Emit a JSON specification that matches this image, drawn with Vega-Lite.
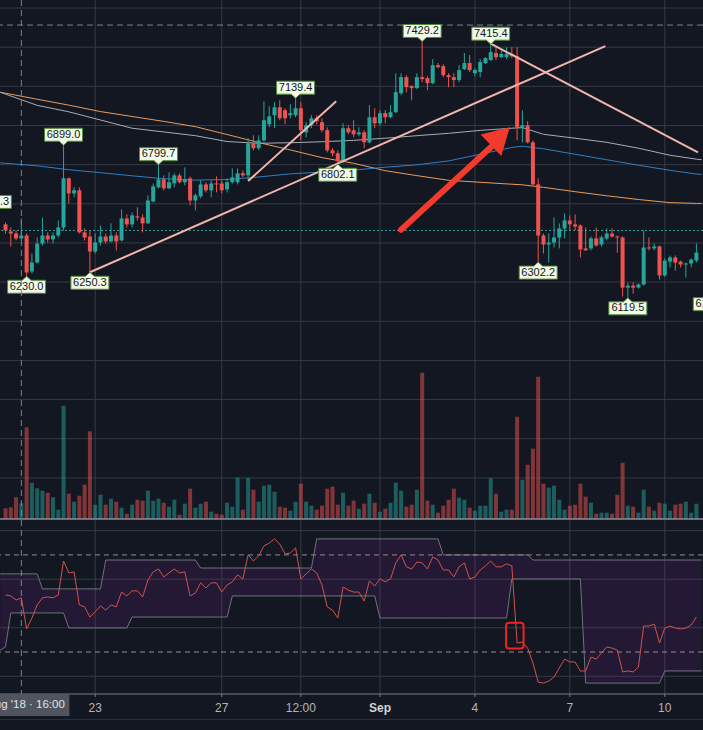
{
"$schema": "https://vega.github.io/schema/vega-lite/v6.json",
"background": "#131722",
"width": 703,
"height": 694,
"autosize": {"type": "none"},
"padding": {"left": 0, "top": 0, "right": 0, "bottom": 36},
"config": {"view": {"stroke": null}, "text": {"font": "Liberation Sans"}},
"datasets": {
"candles": [
{"t":"2018-08-20T04:00Z","o":6495,"h":6505,"l":6448,"c":6464,"v":1070,"r":53.5},
{"t":"2018-08-20T08:00Z","o":6459,"h":6479,"l":6382,"c":6448,"v":1170,"r":53.1},
{"t":"2018-08-20T12:00Z","o":6448,"h":6464,"l":6413,"c":6423,"v":2170,"r":51.4},
{"t":"2018-08-20T16:00Z","o":6423,"h":6525,"l":6413,"c":6438,"v":1570,"r":52.3},
{"t":"2018-08-20T20:00Z","o":6438,"h":6448,"l":6230,"c":6249,"v":9170,"r":39.5},
{"t":"2018-08-21T00:00Z","o":6254,"h":6346,"l":6244,"c":6300,"v":3630,"r":44.0},
{"t":"2018-08-21T04:00Z","o":6300,"h":6428,"l":6295,"c":6397,"v":3070,"r":49.4},
{"t":"2018-08-21T08:00Z","o":6397,"h":6530,"l":6387,"c":6438,"v":2830,"r":52.3},
{"t":"2018-08-21T12:00Z","o":6438,"h":6454,"l":6402,"c":6418,"v":2630,"r":52.7},
{"t":"2018-08-21T16:00Z","o":6418,"h":6454,"l":6397,"c":6438,"v":2170,"r":52.3},
{"t":"2018-08-21T20:00Z","o":6438,"h":6515,"l":6428,"c":6479,"v":930,"r":53.5},
{"t":"2018-08-22T00:00Z","o":6479,"h":6899,"l":6464,"c":6730,"v":11330,"r":67.5},
{"t":"2018-08-22T04:00Z","o":6730,"h":6735,"l":6602,"c":6653,"v":2530,"r":62.6},
{"t":"2018-08-22T08:00Z","o":6653,"h":6684,"l":6633,"c":6669,"v":1730,"r":63.0},
{"t":"2018-08-22T12:00Z","o":6669,"h":6684,"l":6448,"c":6454,"v":2330,"r":49.4},
{"t":"2018-08-22T16:00Z","o":6454,"h":6474,"l":6413,"c":6428,"v":3430,"r":48.6},
{"t":"2018-08-22T20:00Z","o":6433,"h":6464,"l":6250.3,"c":6356,"v":8770,"r":44.4},
{"t":"2018-08-23T00:00Z","o":6356,"h":6448,"l":6346,"c":6402,"v":1430,"r":46.5},
{"t":"2018-08-23T04:00Z","o":6402,"h":6489,"l":6387,"c":6433,"v":2430,"r":49.0},
{"t":"2018-08-23T08:00Z","o":6433,"h":6448,"l":6397,"c":6408,"v":1430,"r":47.3},
{"t":"2018-08-23T12:00Z","o":6408,"h":6500,"l":6402,"c":6438,"v":2030,"r":49.4},
{"t":"2018-08-23T16:00Z","o":6438,"h":6454,"l":6362,"c":6408,"v":1730,"r":48.6},
{"t":"2018-08-23T20:00Z","o":6413,"h":6571,"l":6408,"c":6525,"v":1130,"r":54.7},
{"t":"2018-08-24T00:00Z","o":6525,"h":6546,"l":6479,"c":6495,"v":530,"r":53.1},
{"t":"2018-08-24T04:00Z","o":6495,"h":6556,"l":6479,"c":6541,"v":1430,"r":55.2},
{"t":"2018-08-24T08:00Z","o":6536,"h":6582,"l":6515,"c":6530,"v":1930,"r":55.2},
{"t":"2018-08-24T12:00Z","o":6530,"h":6546,"l":6454,"c":6500,"v":1830,"r":52.7},
{"t":"2018-08-24T16:00Z","o":6500,"h":6643,"l":6497,"c":6617,"v":2830,"r":59.7},
{"t":"2018-08-24T20:00Z","o":6612,"h":6704,"l":6607,"c":6689,"v":1830,"r":63.0},
{"t":"2018-08-25T00:00Z","o":6684,"h":6799.7,"l":6679,"c":6725,"v":2030,"r":64.2},
{"t":"2018-08-25T04:00Z","o":6725,"h":6745,"l":6669,"c":6679,"v":1630,"r":60.9},
{"t":"2018-08-25T08:00Z","o":6679,"h":6761,"l":6676,"c":6710,"v":1230,"r":62.6},
{"t":"2018-08-25T12:00Z","o":6704,"h":6756,"l":6684,"c":6745,"v":1930,"r":64.2},
{"t":"2018-08-25T16:00Z","o":6745,"h":6756,"l":6704,"c":6710,"v":430,"r":62.6},
{"t":"2018-08-25T20:00Z","o":6710,"h":6786,"l":6694,"c":6725,"v":1530,"r":63.0},
{"t":"2018-08-26T00:00Z","o":6730,"h":6740,"l":6592,"c":6617,"v":3030,"r":53.1},
{"t":"2018-08-26T04:00Z","o":6617,"h":6653,"l":6566,"c":6643,"v":1130,"r":54.3},
{"t":"2018-08-26T08:00Z","o":6638,"h":6720,"l":6628,"c":6699,"v":1530,"r":58.5},
{"t":"2018-08-26T12:00Z","o":6699,"h":6710,"l":6658,"c":6669,"v":1730,"r":56.4},
{"t":"2018-08-26T16:00Z","o":6669,"h":6720,"l":6633,"c":6704,"v":730,"r":58.5},
{"t":"2018-08-26T20:00Z","o":6704,"h":6740,"l":6658,"c":6699,"v":530,"r":58.5},
{"t":"2018-08-27T00:00Z","o":6704,"h":6720,"l":6653,"c":6669,"v":430,"r":54.7},
{"t":"2018-08-27T04:00Z","o":6674,"h":6730,"l":6658,"c":6710,"v":1630,"r":57.6},
{"t":"2018-08-27T08:00Z","o":6710,"h":6781,"l":6704,"c":6735,"v":1230,"r":58.9},
{"t":"2018-08-27T12:00Z","o":6710,"h":6781,"l":6699,"c":6756,"v":4130,"r":61.8},
{"t":"2018-08-27T16:00Z","o":6756,"h":6771,"l":6735,"c":6745,"v":930,"r":60.1},
{"t":"2018-08-27T20:00Z","o":6745,"h":6935,"l":6720,"c":6909,"v":4100,"r":70.0},
{"t":"2018-08-28T00:00Z","o":6909,"h":6950,"l":6873,"c":6884,"v":2930,"r":67.5},
{"t":"2018-08-28T04:00Z","o":6884,"h":6950,"l":6873,"c":6924,"v":1730,"r":69.6},
{"t":"2018-08-28T08:00Z","o":6924,"h":7124,"l":6914,"c":7027,"v":3330,"r":73.7},
{"t":"2018-08-28T12:00Z","o":7006,"h":7098,"l":6991,"c":7047,"v":3430,"r":74.9},
{"t":"2018-08-28T16:00Z","o":7052,"h":7119,"l":6986,"c":7093,"v":2730,"r":76.6},
{"t":"2018-08-28T20:00Z","o":7093,"h":7129,"l":7027,"c":7037,"v":1230,"r":74.5},
{"t":"2018-08-29T00:00Z","o":7078,"h":7088,"l":7006,"c":7037,"v":1130,"r":70.4},
{"t":"2018-08-29T04:00Z","o":7052,"h":7109,"l":7037,"c":7063,"v":830,"r":70.8},
{"t":"2018-08-29T08:00Z","o":7052,"h":7139.4,"l":7042,"c":7088,"v":1730,"r":72.9},
{"t":"2018-08-29T12:00Z","o":7088,"h":7119,"l":6924,"c":6976,"v":3530,"r":60.1},
{"t":"2018-08-29T16:00Z","o":6965,"h":7017,"l":6940,"c":7001,"v":1730,"r":62.2},
{"t":"2018-08-29T20:00Z","o":7001,"h":7052,"l":6986,"c":7037,"v":1330,"r":64.2},
{"t":"2018-08-30T00:00Z","o":7037,"h":7052,"l":7006,"c":7022,"v":930,"r":62.6},
{"t":"2018-08-30T04:00Z","o":7017,"h":7037,"l":6965,"c":6976,"v":1330,"r":57.6},
{"t":"2018-08-30T08:00Z","o":6976,"h":6991,"l":6863,"c":6873,"v":3030,"r":48.6},
{"t":"2018-08-30T12:00Z","o":6873,"h":6884,"l":6843,"c":6858,"v":3230,"r":47.3},
{"t":"2018-08-30T16:00Z","o":6858,"h":6873,"l":6802.1,"c":6817,"v":1430,"r":44.0},
{"t":"2018-08-30T20:00Z","o":6817,"h":7011,"l":6807,"c":6986,"v":2630,"r":56.8},
{"t":"2018-08-31T00:00Z","o":6986,"h":7001,"l":6955,"c":6965,"v":1330,"r":55.5},
{"t":"2018-08-31T04:00Z","o":6976,"h":7027,"l":6940,"c":6955,"v":1830,"r":54.7},
{"t":"2018-08-31T08:00Z","o":6955,"h":6991,"l":6945,"c":6965,"v":1030,"r":54.7},
{"t":"2018-08-31T12:00Z","o":6965,"h":6976,"l":6884,"c":6914,"v":1530,"r":51.0},
{"t":"2018-08-31T16:00Z","o":6914,"h":7104,"l":6909,"c":7042,"v":2530,"r":59.3},
{"t":"2018-08-31T20:00Z","o":7042,"h":7088,"l":6986,"c":7011,"v":1630,"r":57.2},
{"t":"2018-09-01T00:00Z","o":7011,"h":7078,"l":7001,"c":7063,"v":730,"r":60.1},
{"t":"2018-09-01T04:00Z","o":7063,"h":7078,"l":7011,"c":7042,"v":1030,"r":58.9},
{"t":"2018-09-01T08:00Z","o":7042,"h":7104,"l":7037,"c":7068,"v":1630,"r":60.1},
{"t":"2018-09-01T12:00Z","o":7068,"h":7267,"l":7063,"c":7170,"v":3630,"r":66.7},
{"t":"2018-09-01T16:00Z","o":7165,"h":7267,"l":7155,"c":7247,"v":2830,"r":70.0},
{"t":"2018-09-01T20:00Z","o":7247,"h":7257,"l":7170,"c":7196,"v":1230,"r":65.1},
{"t":"2018-09-02T00:00Z","o":7201,"h":7206,"l":7129,"c":7191,"v":1430,"r":64.2},
{"t":"2018-09-02T04:00Z","o":7191,"h":7267,"l":7186,"c":7247,"v":2930,"r":67.1},
{"t":"2018-09-02T08:00Z","o":7247,"h":7429.2,"l":7221,"c":7237,"v":14630,"r":66.7},
{"t":"2018-09-02T12:00Z","o":7242,"h":7252,"l":7180,"c":7216,"v":1830,"r":64.2},
{"t":"2018-09-02T16:00Z","o":7216,"h":7339,"l":7211,"c":7308,"v":1430,"r":69.2},
{"t":"2018-09-02T20:00Z","o":7308,"h":7319,"l":7293,"c":7298,"v":630,"r":67.9},
{"t":"2018-09-03T00:00Z","o":7303,"h":7313,"l":7247,"c":7257,"v":1330,"r":63.8},
{"t":"2018-09-03T04:00Z","o":7257,"h":7267,"l":7196,"c":7247,"v":1930,"r":63.8},
{"t":"2018-09-03T08:00Z","o":7247,"h":7267,"l":7196,"c":7232,"v":3030,"r":60.9},
{"t":"2018-09-03T12:00Z","o":7232,"h":7308,"l":7221,"c":7283,"v":2130,"r":65.1},
{"t":"2018-09-03T16:00Z","o":7288,"h":7370,"l":7283,"c":7319,"v":1930,"r":66.7},
{"t":"2018-09-03T20:00Z","o":7319,"h":7360,"l":7273,"c":7283,"v":1130,"r":60.1},
{"t":"2018-09-04T00:00Z","o":7267,"h":7293,"l":7252,"c":7283,"v":830,"r":60.9},
{"t":"2018-09-04T04:00Z","o":7273,"h":7339,"l":7247,"c":7324,"v":1330,"r":63.8},
{"t":"2018-09-04T08:00Z","o":7319,"h":7349,"l":7313,"c":7344,"v":1330,"r":65.5},
{"t":"2018-09-04T12:00Z","o":7334,"h":7415.4,"l":7330,"c":7375,"v":4070,"r":67.5},
{"t":"2018-09-04T16:00Z","o":7370,"h":7400,"l":7334,"c":7349,"v":2530,"r":65.1},
{"t":"2018-09-04T20:00Z","o":7349,"h":7385,"l":7344,"c":7365,"v":730,"r":65.1},
{"t":"2018-09-05T00:00Z","o":7349,"h":7400,"l":7339,"c":7365,"v":930,"r":66.3},
{"t":"2018-09-05T04:00Z","o":7365,"h":7400,"l":7344,"c":7354,"v":930,"r":65.5},
{"t":"2018-09-05T08:00Z","o":7354,"h":7400,"l":6924,"c":6991,"v":10230,"r":33.7},
{"t":"2018-09-05T12:00Z","o":6991,"h":7078,"l":6914,"c":7001,"v":3930,"r":34.1},
{"t":"2018-09-05T16:00Z","o":7001,"h":7022,"l":6909,"c":6914,"v":5430,"r":31.6},
{"t":"2018-09-05T20:00Z","o":6914,"h":6924,"l":6694,"c":6699,"v":7030,"r":25.5},
{"t":"2018-09-06T00:00Z","o":6699,"h":6730,"l":6302.2,"c":6438,"v":14230,"r":17.6},
{"t":"2018-09-06T04:00Z","o":6438,"h":6448,"l":6346,"c":6392,"v":3530,"r":17.2},
{"t":"2018-09-06T08:00Z","o":6392,"h":6448,"l":6300,"c":6402,"v":3130,"r":18.0},
{"t":"2018-09-06T12:00Z","o":6402,"h":6530,"l":6377,"c":6428,"v":3330,"r":19.7},
{"t":"2018-09-06T16:00Z","o":6428,"h":6500,"l":6372,"c":6474,"v":1930,"r":23.4},
{"t":"2018-09-06T20:00Z","o":6474,"h":6551,"l":6423,"c":6515,"v":930,"r":27.1},
{"t":"2018-09-07T00:00Z","o":6515,"h":6541,"l":6464,"c":6495,"v":1330,"r":25.9},
{"t":"2018-09-07T04:00Z","o":6495,"h":6546,"l":6464,"c":6484,"v":1430,"r":25.9},
{"t":"2018-09-07T08:00Z","o":6489,"h":6495,"l":6326,"c":6367,"v":3530,"r":22.2},
{"t":"2018-09-07T12:00Z","o":6372,"h":6479,"l":6360,"c":6362,"v":2230,"r":22.2},
{"t":"2018-09-07T16:00Z","o":6372,"h":6433,"l":6362,"c":6423,"v":1630,"r":27.9},
{"t":"2018-09-07T20:00Z","o":6423,"h":6479,"l":6382,"c":6387,"v":530,"r":27.1},
{"t":"2018-09-08T00:00Z","o":6392,"h":6438,"l":6382,"c":6428,"v":630,"r":29.6},
{"t":"2018-09-08T04:00Z","o":6423,"h":6474,"l":6413,"c":6448,"v":630,"r":32.1},
{"t":"2018-09-08T08:00Z","o":6448,"h":6474,"l":6428,"c":6433,"v":530,"r":31.6},
{"t":"2018-09-08T12:00Z","o":6433,"h":6438,"l":6351,"c":6428,"v":2430,"r":30.8},
{"t":"2018-09-08T16:00Z","o":6428,"h":6433,"l":6126,"c":6172,"v":5630,"r":21.8},
{"t":"2018-09-08T20:00Z","o":6172,"h":6198,"l":6119.5,"c":6182,"v":1330,"r":22.2},
{"t":"2018-09-09T00:00Z","o":6182,"h":6198,"l":6141,"c":6172,"v":1230,"r":21.8},
{"t":"2018-09-09T04:00Z","o":6172,"h":6193,"l":6167,"c":6188,"v":630,"r":23.8},
{"t":"2018-09-09T08:00Z","o":6188,"h":6464,"l":6182,"c":6377,"v":2930,"r":40.7},
{"t":"2018-09-09T12:00Z","o":6377,"h":6428,"l":6362,"c":6372,"v":1230,"r":40.7},
{"t":"2018-09-09T16:00Z","o":6372,"h":6397,"l":6362,"c":6382,"v":830,"r":41.5},
{"t":"2018-09-09T20:00Z","o":6382,"h":6387,"l":6213,"c":6234,"v":1630,"r":33.7},
{"t":"2018-09-10T00:00Z","o":6234,"h":6321,"l":6228,"c":6310,"v":1530,"r":39.9},
{"t":"2018-09-10T04:00Z","o":6305,"h":6336,"l":6275,"c":6326,"v":830,"r":40.7},
{"t":"2018-09-10T08:00Z","o":6326,"h":6336,"l":6259,"c":6300,"v":1430,"r":39.9},
{"t":"2018-09-10T12:00Z","o":6305,"h":6310,"l":6275,"c":6290,"v":1530,"r":39.5},
{"t":"2018-09-10T16:00Z","o":6290,"h":6300,"l":6223,"c":6295,"v":1730,"r":39.9},
{"t":"2018-09-10T20:00Z","o":6295,"h":6321,"l":6275,"c":6315,"v":630,"r":41.1},
{"t":"2018-09-11T00:00Z","o":6310,"h":6397,"l":6300,"c":6351,"v":1530,"r":44.4}
],
"ma": [
{"t":"2018-08-20T00:00Z","a":7170,"g":7170,"b":6809},
{"t":"2018-08-20T04:00Z","a":7165,"g":7160,"b":6807},
{"t":"2018-08-21T04:00Z","a":7134,"g":7103,"b":6794},
{"t":"2018-08-22T04:00Z","a":7104,"g":7070,"b":6774},
{"t":"2018-08-23T04:00Z","a":7071,"g":7028,"b":6759},
{"t":"2018-08-24T04:00Z","a":7046,"g":6986,"b":6743},
{"t":"2018-08-25T04:00Z","a":7021,"g":6967,"b":6728},
{"t":"2018-08-26T04:00Z","a":6994,"g":6948,"b":6721},
{"t":"2018-08-27T04:00Z","a":6954,"g":6918,"b":6724},
{"t":"2018-08-28T04:00Z","a":6913,"g":6909,"b":6737},
{"t":"2018-08-29T04:00Z","a":6875,"g":6912,"b":6753},
{"t":"2018-08-30T04:00Z","a":6836,"g":6917,"b":6762},
{"t":"2018-08-31T04:00Z","a":6807,"g":6924,"b":6772},
{"t":"2018-09-01T04:00Z","a":6769,"g":6935,"b":6787},
{"t":"2018-09-02T04:00Z","a":6744,"g":6948,"b":6799},
{"t":"2018-09-03T04:00Z","a":6720,"g":6960,"b":6819},
{"t":"2018-09-04T04:00Z","a":6710,"g":6975,"b":6853},
{"t":"2018-09-05T04:00Z","a":6700,"g":6986,"b":6888},
{"t":"2018-09-05T12:00Z","a":6697,"g":6989,"b":6894},
{"t":"2018-09-06T04:00Z","a":6684,"g":6955,"b":6881},
{"t":"2018-09-07T04:00Z","a":6662,"g":6935,"b":6853},
{"t":"2018-09-08T04:00Z","a":6641,"g":6914,"b":6825},
{"t":"2018-09-09T04:00Z","a":6622,"g":6884,"b":6797},
{"t":"2018-09-10T04:00Z","a":6606,"g":6848,"b":6771},
{"t":"2018-09-11T00:00Z","a":6602,"g":6828,"b":6752},
{"t":"2018-09-11T04:00Z","a":6602,"g":6825,"b":6750}
],
"bands": [
{"t":"2018-08-20T00:00Z","up":62.2,"lo":30.8},
{"t":"2018-08-20T04:00Z","up":62.2,"lo":32.1},
{"t":"2018-08-20T08:00Z","up":62.2,"lo":46.1},
{"t":"2018-08-21T04:00Z","up":62.2,"lo":46.1},
{"t":"2018-08-21T08:00Z","up":56.0,"lo":46.1},
{"t":"2018-08-22T00:00Z","up":56.0,"lo":46.1},
{"t":"2018-08-22T04:00Z","up":56.0,"lo":39.9},
{"t":"2018-08-23T04:00Z","up":56.0,"lo":39.9},
{"t":"2018-08-23T08:00Z","up":67.9,"lo":39.9},
{"t":"2018-08-24T00:00Z","up":67.9,"lo":39.9},
{"t":"2018-08-24T04:00Z","up":67.9,"lo":44.4},
{"t":"2018-08-26T04:00Z","up":67.9,"lo":44.4},
{"t":"2018-08-26T08:00Z","up":64.6,"lo":44.4},
{"t":"2018-08-27T04:00Z","up":64.6,"lo":44.4},
{"t":"2018-08-27T08:00Z","up":64.6,"lo":53.1},
{"t":"2018-08-29T20:00Z","up":64.6,"lo":53.1},
{"t":"2018-08-30T00:00Z","up":76.6,"lo":53.1},
{"t":"2018-08-31T20:00Z","up":76.6,"lo":53.1},
{"t":"2018-09-01T00:00Z","up":76.6,"lo":44.0},
{"t":"2018-09-02T20:00Z","up":76.6,"lo":44.0},
{"t":"2018-09-03T00:00Z","up":70.0,"lo":44.0},
{"t":"2018-09-05T00:00Z","up":70.0,"lo":44.0},
{"t":"2018-09-05T04:00Z","up":70.0,"lo":60.1},
{"t":"2018-09-05T16:00Z","up":70.0,"lo":60.1},
{"t":"2018-09-05T20:00Z","up":67.9,"lo":60.1},
{"t":"2018-09-07T08:00Z","up":67.9,"lo":60.1},
{"t":"2018-09-07T12:00Z","up":67.9,"lo":17.2},
{"t":"2018-09-09T20:00Z","up":67.9,"lo":17.2},
{"t":"2018-09-10T00:00Z","up":67.9,"lo":22.2},
{"t":"2018-09-11T04:00Z","up":67.9,"lo":22.2}
],
"trend": [
{"id":"a","t":"2018-08-22T20:00Z","p":6250.3},
{"id":"a","t":"2018-09-08T02:56Z","p":7405.6},
{"id":"b","t":"2018-08-27T20:00Z","p":6716},
{"id":"b","t":"2018-08-30T14:48Z","p":7124},
{"id":"c","t":"2018-09-04T12:00Z","p":7418},
{"id":"c","t":"2018-09-11T01:12Z","p":6863}
],
"labels": [
{"t":"2018-08-22T00:00Z","p":6899.0,"txt":"6899.0","pos":"above"},
{"t":"2018-08-25T00:00Z","p":6799.7,"txt":"6799.7","pos":"above"},
{"t":"2018-08-29T08:00Z","p":7139.4,"txt":"7139.4","pos":"above"},
{"t":"2018-09-02T08:00Z","p":7429.2,"txt":"7429.2","pos":"above"},
{"t":"2018-09-04T12:00Z","p":7415.4,"txt":"7415.4","pos":"above"},
{"t":"2018-08-19T18:00Z","p":6556,"txt":"6556.3","pos":"above"},
{"t":"2018-08-20T20:00Z","p":6230.0,"txt":"6230.0","pos":"below"},
{"t":"2018-08-22T20:00Z","p":6250.3,"txt":"6250.3","pos":"below"},
{"t":"2018-08-30T16:00Z","p":6802.1,"txt":"6802.1","pos":"below"},
{"t":"2018-09-06T00:00Z","p":6302.2,"txt":"6302.2","pos":"below"},
{"t":"2018-09-08T20:00Z","p":6119.5,"txt":"6119.5","pos":"below"},
{"t":"2018-09-11T12:00Z","p":6141,"txt":"6141.0","pos":"below"}
],
"vgrid": [
{"t":"2018-08-23T00:00Z","lab":"23"},{"t":"2018-08-27T00:00Z","lab":"27"},{"t":"2018-08-29T12:00Z","lab":"12:00"},{"t":"2018-09-01T00:00Z","lab":"Sep"},{"t":"2018-09-04T00:00Z","lab":"4"},{"t":"2018-09-07T00:00Z","lab":"7"},{"t":"2018-09-10T00:00Z","lab":"10"}
],
"hgrid": [{"p":5200},{"p":5400},{"p":5600},{"p":5800},{"p":6000},{"p":6200},{"p":6400},{"p":6600},{"p":6800},{"p":7000},{"p":7200},{"p":7400},{"p":7600}],
"ogrid": [{"r":20},{"r":40},{"r":60},{"r":80}]
},
"layer": [
{"data": {"name": "vgrid"},
 "mark": {"type": "rule", "color": "#363a46", "strokeWidth": 1},
 "encoding": {
  "x": {"field": "t", "type": "temporal", "title": null,
   "scale": {"type": "utc", "domain": [{"year":2018,"month":8,"date":20,"hours":3,"minutes":36,"utc":true},{"year":2018,"month":9,"date":11,"hours":1,"minutes":12,"utc":true}]},
   "axis": null}
 }},
{"data": {"name": "hgrid"},
 "mark": {"type": "rule", "color": "#363a46", "strokeWidth": 1},
 "encoding": {"y": {"field": "p", "type": "quantitative", "scale": {"domain": [4990, 7641], "range": [519, 0], "nice": false, "zero": false}, "axis": null}}},
{"data": {"name": "ogrid"},
 "mark": {"type": "rule", "color": "#363a46", "strokeWidth": 1},
 "encoding": {"y": {"field": "r", "type": "quantitative", "scale": {"domain": [12.7, 84.8], "range": [694, 519], "nice": false, "zero": false}, "axis": null}}},
{"data": {"name": "candles"},
 "mark": {"type": "bar", "size": 4, "opacity": 0.5, "clip": true},
 "encoding": {
  "x": {"field": "t", "type": "temporal", "axis": null},
  "y": {"field": "v", "type": "quantitative", "scale": {"domain": [0, 51900], "range": [519, 0], "nice": false}, "axis": null},
  "color": {"condition": {"test": "datum.c >= datum.o", "value": "#26a69a"}, "value": "#ef5350"}
 }},
{"data": {"values": [{"v": 0}]},
 "mark": {"type": "rule", "color": "#8a8d97", "strokeWidth": 1.5},
 "encoding": {"y": {"field": "v", "type": "quantitative", "scale": {"domain": [0, 51900], "range": [519, 0], "nice": false}, "axis": null}}},
{"data": {"values": [{"p": 6464}]},
 "mark": {"type": "rule", "color": "#26a69a", "strokeDash": [2, 2], "strokeWidth": 1},
 "encoding": {"y": {"field": "p", "type": "quantitative", "scale": {"domain": [4990, 7641], "range": [519, 0], "nice": false, "zero": false}, "axis": null}}},
{"data": {"values": [{"p": 7513}]},
 "mark": {"type": "rule", "color": "#758696", "strokeDash": [6, 4], "strokeWidth": 1},
 "encoding": {"y": {"field": "p", "type": "quantitative", "scale": {"domain": [4990, 7641], "range": [519, 0], "nice": false, "zero": false}, "axis": null}}},
{"data": {"name": "ma"},
 "mark": {"type": "line", "color": "#e99a5b", "strokeWidth": 1, "clip": true},
 "encoding": {"x": {"field": "t", "type": "temporal", "axis": null}, "y": {"field": "a", "type": "quantitative", "scale": {"domain": [4990, 7641], "range": [519, 0], "nice": false, "zero": false}, "axis": null}}},
{"data": {"name": "ma"},
 "mark": {"type": "line", "color": "#a9acb5", "strokeWidth": 1, "clip": true},
 "encoding": {"x": {"field": "t", "type": "temporal", "axis": null}, "y": {"field": "g", "type": "quantitative", "scale": {"domain": [4990, 7641], "range": [519, 0], "nice": false, "zero": false}, "axis": null}}},
{"data": {"name": "ma"},
 "mark": {"type": "line", "color": "#2f7fc1", "strokeWidth": 1, "clip": true},
 "encoding": {"x": {"field": "t", "type": "temporal", "axis": null}, "y": {"field": "b", "type": "quantitative", "scale": {"domain": [4990, 7641], "range": [519, 0], "nice": false, "zero": false}, "axis": null}}},
{"data": {"name": "candles"},
 "mark": {"type": "rule", "strokeWidth": 1, "clip": true},
 "encoding": {"x": {"field": "t", "type": "temporal", "axis": null}, "y": {"field": "l", "type": "quantitative", "scale": {"domain": [4990, 7641], "range": [519, 0], "nice": false, "zero": false}, "axis": null}, "y2": {"field": "h"},
  "color": {"condition": {"test": "datum.c >= datum.o", "value": "#26a69a"}, "value": "#ef5350"}}},
{"data": {"name": "candles"},
 "mark": {"type": "bar", "size": 4, "clip": true},
 "encoding": {"x": {"field": "t", "type": "temporal", "axis": null}, "y": {"field": "o", "type": "quantitative", "scale": {"domain": [4990, 7641], "range": [519, 0], "nice": false, "zero": false}, "axis": null}, "y2": {"field": "c"},
  "color": {"condition": {"test": "datum.c >= datum.o", "value": "#26a69a"}, "value": "#ef5350"}}},
{"data": {"name": "trend"},
 "mark": {"type": "line", "color": "#f2b5ac", "strokeWidth": 2, "clip": true},
 "encoding": {"x": {"field": "t", "type": "temporal", "axis": null}, "y": {"field": "p", "type": "quantitative", "scale": {"domain": [4990, 7641], "range": [519, 0], "nice": false, "zero": false}, "axis": null}, "detail": {"field": "id"}}},
{"data": {"values": [{"t": "2018-09-01T15:54Z", "p": 6467}, {"t": "2018-09-04T14:30Z", "p": 6904}]},
 "mark": {"type": "line", "color": "#f23b2c", "strokeWidth": 6, "strokeCap": "round"},
 "encoding": {"x": {"field": "t", "type": "temporal", "axis": null}, "y": {"field": "p", "type": "quantitative", "scale": {"domain": [4990, 7641], "range": [519, 0], "nice": false, "zero": false}, "axis": null}}},
{"data": {"values": [{"t": "2018-09-04T19:18Z", "p": 6945}]},
 "mark": {"type": "point", "shape": "M0,-1L1.14,1L-1.14,1Z", "size": 686, "angle": 46, "filled": true, "color": "#f23b2c", "opacity": 1},
 "encoding": {"x": {"field": "t", "type": "temporal", "axis": null}, "y": {"field": "p", "type": "quantitative", "scale": {"domain": [4990, 7641], "range": [519, 0], "nice": false, "zero": false}, "axis": null}}},
{"data": {"name": "labels"},
 "transform": [{"filter": "datum.pos == 'above'"}],
 "mark": {"type": "point", "shape": "M0,0L-0.22,-0.2L-0.95,-0.2L-0.95,-0.85L0.95,-0.85L0.95,-0.2L0.22,-0.2Z", "size": 1600, "filled": true, "fill": "#f2f9e6", "stroke": "#4f8a36", "strokeWidth": 1, "opacity": 1, "clip": true},
 "encoding": {"x": {"field": "t", "type": "temporal", "axis": null}, "y": {"field": "p", "type": "quantitative", "scale": {"domain": [4990, 7641], "range": [519, 0], "nice": false, "zero": false}, "axis": null}}},
{"data": {"name": "labels"},
 "transform": [{"filter": "datum.pos == 'below'"}],
 "mark": {"type": "point", "shape": "M0,0L0.22,0.2L0.95,0.2L0.95,0.85L-0.95,0.85L-0.95,0.2L-0.22,0.2Z", "size": 1600, "filled": true, "fill": "#f2f9e6", "stroke": "#4f8a36", "strokeWidth": 1, "opacity": 1, "clip": true},
 "encoding": {"x": {"field": "t", "type": "temporal", "axis": null}, "y": {"field": "p", "type": "quantitative", "scale": {"domain": [4990, 7641], "range": [519, 0], "nice": false, "zero": false}, "axis": null}}},
{"data": {"name": "labels"},
 "transform": [{"filter": "datum.pos == 'above'"}],
 "mark": {"type": "text", "dy": -10.5, "fontSize": 11, "color": "#131722", "baseline": "middle", "clip": true},
 "encoding": {"x": {"field": "t", "type": "temporal", "axis": null}, "y": {"field": "p", "type": "quantitative", "scale": {"domain": [4990, 7641], "range": [519, 0], "nice": false, "zero": false}, "axis": null}, "text": {"field": "txt"}}},
{"data": {"name": "labels"},
 "transform": [{"filter": "datum.pos == 'below'"}],
 "mark": {"type": "text", "dy": 10.5, "fontSize": 11, "color": "#131722", "baseline": "middle", "clip": true},
 "encoding": {"x": {"field": "t", "type": "temporal", "axis": null}, "y": {"field": "p", "type": "quantitative", "scale": {"domain": [4990, 7641], "range": [519, 0], "nice": false, "zero": false}, "axis": null}, "text": {"field": "txt"}}},
{"data": {"name": "bands"},
 "mark": {"type": "area", "color": "#9c27b0", "opacity": 0.13, "clip": true},
 "encoding": {
  "x": {"field": "t", "type": "temporal", "axis": null},
  "y": {"field": "up", "type": "quantitative", "scale": {"domain": [12.7, 84.8], "range": [694, 519], "nice": false, "zero": false}, "axis": null},
  "y2": {"field": "lo"}
 }},
{"data": {"name": "bands"},
 "mark": {"type": "line", "color": "#6f727c", "strokeWidth": 1, "clip": true},
 "encoding": {"x": {"field": "t", "type": "temporal", "axis": null}, "y": {"field": "up", "type": "quantitative", "scale": {"domain": [12.7, 84.8], "range": [694, 519], "nice": false, "zero": false}, "axis": null}}},
{"data": {"name": "bands"},
 "mark": {"type": "line", "color": "#6f727c", "strokeWidth": 1, "clip": true},
 "encoding": {"x": {"field": "t", "type": "temporal", "axis": null}, "y": {"field": "lo", "type": "quantitative", "scale": {"domain": [12.7, 84.8], "range": [694, 519], "nice": false, "zero": false}, "axis": null}}},
{"data": {"values": [{"r": 70}, {"r": 30}]},
 "mark": {"type": "rule", "color": "#9f868c", "strokeDash": [5, 4], "strokeWidth": 1},
 "encoding": {"y": {"field": "r", "type": "quantitative", "scale": {"domain": [12.7, 84.8], "range": [694, 519], "nice": false, "zero": false}, "axis": null}}},
{"data": {"name": "candles"},
 "mark": {"type": "line", "color": "#cf5350", "strokeWidth": 1, "clip": true},
 "encoding": {"x": {"field": "t", "type": "temporal", "axis": null}, "y": {"field": "r", "type": "quantitative", "scale": {"domain": [12.7, 84.8], "range": [694, 519], "nice": false, "zero": false}, "axis": null}}},
{"data": {"values": [{"t": "2018-09-04T23:38Z", "t2": "2018-09-05T12:54Z", "r1": 42.1, "r2": 31.4}]},
 "mark": {"type": "rect", "fillOpacity": 0, "stroke": "#f0231e", "strokeWidth": 2, "cornerRadius": 3},
 "encoding": {"x": {"field": "t", "type": "temporal", "axis": null}, "x2": {"field": "t2"}, "y": {"field": "r1", "type": "quantitative", "scale": {"domain": [12.7, 84.8], "range": [694, 519], "nice": false, "zero": false}, "axis": null}, "y2": {"field": "r2"}}},
{"data": {"values": [{"r": 12.7}]},
 "mark": {"type": "rule", "color": "#787b86", "strokeWidth": 1, "clip": false},
 "encoding": {"y": {"field": "r", "type": "quantitative", "scale": {"domain": [12.7, 84.8], "range": [694, 519], "nice": false, "zero": false}, "axis": null}}},
{"data": {"values": [{"r": 2.19}]},
 "mark": {"type": "rule", "color": "#2a2e39", "strokeWidth": 1, "clip": false},
 "encoding": {"y": {"field": "r", "type": "quantitative", "scale": {"domain": [12.7, 84.8], "range": [694, 519], "nice": false, "zero": false}, "axis": null}}},
{"data": {"name": "vgrid"},
 "mark": {"type": "rule", "color": "#787b86", "strokeWidth": 1, "clip": false},
 "encoding": {"x": {"field": "t", "type": "temporal", "axis": null}, "y": {"datum": 12.7, "type": "quantitative", "scale": {"domain": [12.7, 84.8], "range": [694, 519], "nice": false, "zero": false}, "axis": null}, "y2": {"datum": 11.46}}},
{"data": {"name": "vgrid"},
 "transform": [{"filter": "datum.lab != 'Sep'"}],
 "mark": {"type": "text", "fontSize": 12, "color": "#b2b5be", "baseline": "middle", "clip": false},
 "encoding": {"x": {"field": "t", "type": "temporal", "axis": null}, "y": {"datum": 6.93, "type": "quantitative", "scale": {"domain": [12.7, 84.8], "range": [694, 519], "nice": false, "zero": false}, "axis": null}, "text": {"field": "lab"}}},
{"data": {"name": "vgrid"},
 "transform": [{"filter": "datum.lab == 'Sep'"}],
 "mark": {"type": "text", "fontSize": 12, "fontWeight": "bold", "color": "#d1d4dc", "baseline": "middle", "clip": false},
 "encoding": {"x": {"field": "t", "type": "temporal", "axis": null}, "y": {"datum": 6.93, "type": "quantitative", "scale": {"domain": [12.7, 84.8], "range": [694, 519], "nice": false, "zero": false}, "axis": null}, "text": {"field": "lab"}}},
{"data": {"values": [{"t": "2018-08-20T16:00Z"}]},
 "mark": {"type": "rule", "color": "#758696", "strokeDash": [6, 4], "strokeWidth": 1},
 "encoding": {"x": {"field": "t", "type": "temporal", "axis": null}}},
{"data": {"values": [{"t": "2018-08-20T16:00Z", "r": 8.17}]},
 "mark": {"type": "point", "shape": "M-1,-0.23L1,-0.23L1,0.23L-1,0.23Z", "size": 9216, "filled": true, "color": "#4f545f", "opacity": 1, "clip": false},
 "encoding": {"x": {"field": "t", "type": "temporal", "axis": null}, "y": {"field": "r", "type": "quantitative", "scale": {"domain": [12.7, 84.8], "range": [694, 519], "nice": false, "zero": false}, "axis": null}}},
{"data": {"values": [{"t": "2018-08-20T16:00Z", "r": 8.17, "txt": "20 Aug '18 · 16:00"}]},
 "mark": {"type": "text", "fontSize": 11.5, "dx": -3, "color": "#e1e3ea", "baseline": "middle", "clip": false},
 "encoding": {"x": {"field": "t", "type": "temporal", "axis": null}, "y": {"field": "r", "type": "quantitative", "scale": {"domain": [12.7, 84.8], "range": [694, 519], "nice": false, "zero": false}, "axis": null}, "text": {"field": "txt"}}}
],
"resolve": {"scale": {"y": "independent"}}
}
